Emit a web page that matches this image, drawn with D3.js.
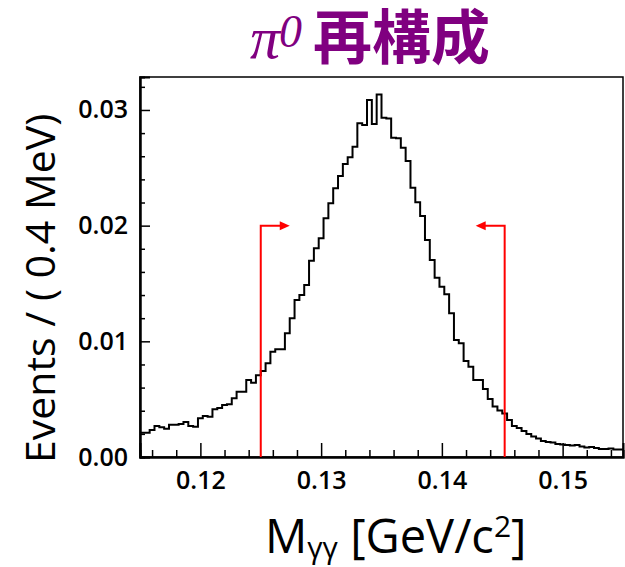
<!DOCTYPE html>
<html>
<head>
<meta charset="utf-8">
<script src="https://cdn.jsdelivr.net/npm/d3@7"></script>
<style>
  html, body { margin: 0; padding: 0; background: #fff; }
  svg { display: block; }
</style>
</head>
<body>
<svg id="chart" width="625" height="567"></svg>
<script>
// Di-photon invariant mass histogram, 100 bins of 0.4 MeV from 0.115 to 0.155 GeV
const binStart = 0.115;
const binWidth = 0.0004;
const counts = [
  0.00210, 0.00210, 0.00233, 0.00268, 0.00257, 0.00245, 0.00279, 0.00279, 0.00285, 0.00303,
  0.00268, 0.00262, 0.00335, 0.00354, 0.00348, 0.00412, 0.00424, 0.00450, 0.00456, 0.00507,
  0.00565, 0.00565, 0.00666, 0.00642, 0.00706, 0.00744, 0.00810, 0.00910, 0.00931, 0.00931,
  0.01069, 0.01199, 0.01357, 0.01401, 0.01487, 0.01697, 0.01804, 0.01891, 0.02064, 0.02193,
  0.02323, 0.02429, 0.02533, 0.02591, 0.02683, 0.02885, 0.02870, 0.03086, 0.02879, 0.03134,
  0.02933, 0.02926, 0.02760, 0.02755, 0.02674, 0.02559, 0.02328, 0.02202, 0.02084, 0.01876,
  0.01703, 0.01550, 0.01472, 0.01407, 0.01242, 0.01012, 0.00983, 0.00830, 0.00781, 0.00666,
  0.00666, 0.00588, 0.00501, 0.00437, 0.00402, 0.00376, 0.00320, 0.00268, 0.00251, 0.00225,
  0.00199, 0.00177, 0.00160, 0.00138, 0.00130, 0.00125, 0.00112, 0.00108, 0.00104, 0.00099,
  0.00104, 0.00091, 0.00082, 0.00086, 0.00078, 0.00069, 0.00069, 0.00073, 0.00065, 0.00065
];

// Axis ranges and tick labels
const xDomain = [0.115, 0.155];
const yDomain = [0, 0.03285];
const xMajorTicks = [0.12, 0.13, 0.14, 0.15];
const yMajorTicks = [0.00, 0.01, 0.02, 0.03];
const minorStep = 0.002;

// Selection window for the pi0 candidate
const cutLow = 0.125;
const cutHigh = 0.1452;
const cutArrowY = 0.02;
const cutArrowLen = 0.0024;

const titleSymbol = "π";
const titleSup = "0";
const titleText = "再構成";
const yTitle = "Events / ( 0.4 MeV)";

const svg = d3.select("#chart");
const plotLeft = 140, plotRight = 623, plotTop = 77, plotBottom = 457;

const x = d3.scaleLinear().domain(xDomain).range([plotLeft, plotRight]);
const y = d3.scaleLinear().domain(yDomain).range([plotBottom, plotTop]);

const tickFont = "'Open Sans', 'DejaVu Sans', sans-serif";

// Minor tick values
const xMinor = d3.range(0.116, 0.1545, minorStep).filter(v => !xMajorTicks.some(m => Math.abs(m - v) < 1e-6));
const yMinor = d3.range(0.002, 0.0328, minorStep).filter(v => !yMajorTicks.some(m => Math.abs(m - v) < 1e-6));

// Histogram outline (step)
const bins = counts.map((c, i) => ({ x0: binStart + i * binWidth, x1: binStart + (i + 1) * binWidth, v: c }));
const stepLine = d3.line().x(d => x(d[0])).y(d => y(d[1]));
const pts = [];
bins.forEach(b => { pts.push([b.x0, b.v]); pts.push([b.x1, b.v]); });
svg.append("path")
  .attr("d", stepLine(pts))
  .attr("fill", "none")
  .attr("stroke", "#000")
  .attr("stroke-width", 2)
  .attr("stroke-linejoin", "miter");

// Frame
svg.append("rect")
  .attr("x", plotLeft).attr("y", plotTop)
  .attr("width", plotRight - plotLeft).attr("height", plotBottom - plotTop)
  .attr("fill", "none").attr("stroke", "#000").attr("stroke-width", 1.5);

// X axis: majors + minors, ticks pointing inward
const xAxisG = svg.append("g").attr("transform", `translate(0,${plotBottom})`);
xAxisG.call(d3.axisBottom(x).tickValues(xMajorTicks).tickSize(-14).tickPadding(14).tickFormat(d3.format(".2f")));
const xMinorG = svg.append("g").attr("transform", `translate(0,${plotBottom})`);
xMinorG.call(d3.axisBottom(x).tickValues(xMinor).tickSize(-7).tickFormat(""));

// Y axis
const yAxisG = svg.append("g").attr("transform", `translate(${plotLeft},0)`);
yAxisG.call(d3.axisLeft(y).tickValues(yMajorTicks).tickSize(-10).tickPadding(12).tickFormat(d3.format(".2f")));
const yMinorG = svg.append("g").attr("transform", `translate(${plotLeft},0)`);
yMinorG.call(d3.axisLeft(y).tickValues(yMinor).tickSize(-5).tickFormat(""));

[xAxisG, xMinorG, yAxisG, yMinorG].forEach(g => {
  g.select(".domain").attr("stroke", "#000").attr("stroke-width", 2);
  g.selectAll(".tick line").attr("stroke", "#000").attr("stroke-width", 1.5);
  g.selectAll("text").attr("font-family", tickFont).attr("font-size", 25).attr("font-weight", 600).attr("fill", "#000");
});

// Cut lines with arrows
const arrowHead = (xTip, yTip, dir) => {
  const L = 10, W = 4.5;
  return `M${xTip},${yTip}L${xTip - dir * L},${yTip - W}L${xTip - dir * L},${yTip + W}Z`;
};
[[cutLow, 1], [cutHigh, -1]].forEach(([cx, dir]) => {
  const xEnd = cx + dir * cutArrowLen;
  svg.append("path")
    .attr("d", `M${x(cx)},${y(0)}L${x(cx)},${y(cutArrowY)}L${x(xEnd) - dir * 6},${y(cutArrowY)}`)
    .attr("fill", "none").attr("stroke", "#ff0000").attr("stroke-width", 2);
  svg.append("path")
    .attr("d", arrowHead(x(xEnd), y(cutArrowY), dir))
    .attr("fill", "#ff0000");
});

// Title
const serif = "'Liberation Serif', 'DejaVu Serif', serif";
const title = svg.append("g").attr("fill", "#800080");
title.append("text")
  .attr("x", 250).attr("y", 58)
  .attr("font-family", serif).attr("font-style", "italic").attr("font-size", 60)
  .text(titleSymbol);
title.append("text")
  .attr("x", 279).attr("y", 47)
  .attr("font-family", serif).attr("font-style", "italic").attr("font-size", 46)
  .text(titleSup);
title.append("text")
  .attr("x", 313).attr("y", 59)
  .attr("font-family", "'Noto Sans CJK JP', sans-serif")
  .attr("font-weight", 700).attr("font-size", 59)
  .text(titleText);

// Y axis title
svg.append("text")
  .attr("transform", "translate(55,463) rotate(-90)")
  .attr("font-family", tickFont).attr("font-size", 41).attr("font-weight", 500)
  .attr("fill", "#000")
  .text(yTitle);

// X axis title
const xt = svg.append("text")
  .attr("x", 265).attr("y", 553)
  .attr("font-family", tickFont).attr("font-size", 47).attr("font-weight", 500)
  .attr("fill", "#000");
xt.append("tspan").text("M");
xt.append("tspan").attr("font-size", 30).attr("dy", 5).text("γγ");
xt.append("tspan").attr("dy", -5).text(" [GeV/c");
xt.append("tspan").attr("font-size", 30).attr("dy", -16).text("2");
xt.append("tspan").attr("dy", 16).text("]");
</script>
</body>
</html>
